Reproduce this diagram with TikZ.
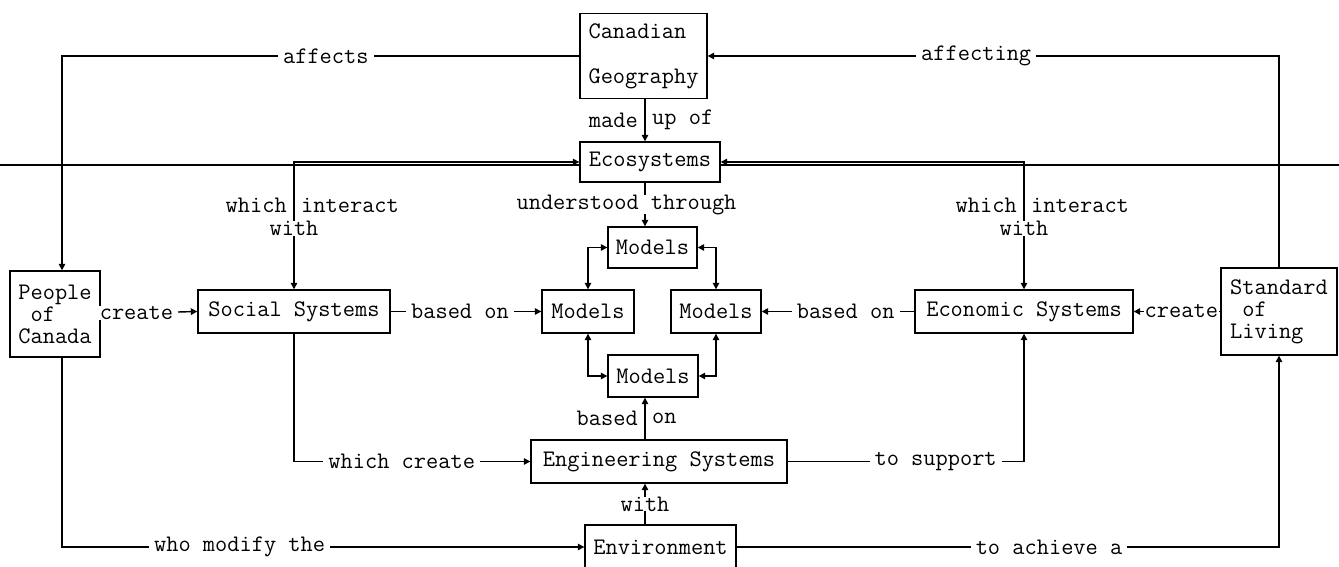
\documentclass[tikz,border=0pt]{standalone}
\usepackage{fontspec}
\usetikzlibrary{arrows.meta}

\begin{document}
\begin{tikzpicture}[x=0.02cm,y=-0.02cm,
  every node/.style={font=\ttfamily\fontsize{13.5}{15}\selectfont},
  box/.style={draw,line width=0.8pt,inner sep=0pt},
  lbl/.style={fill=white,inner xsep=0.1cm,inner ysep=0pt},
  wrd/.style={inner xsep=0.13cm,inner ysep=0pt},
  flow/.style={line width=0.8pt,-{Triangle[length=0.13cm,width=0.13cm]}},
  flow2/.style={line width=0.8pt,{Triangle[length=0.13cm,width=0.13cm]}-{Triangle[length=0.13cm,width=0.13cm]}}]
\useasboundingbox (0,0) rectangle (1339,567);
\coordinate (sp) at (645,0);
\coordinate (lt) at (62,0);
\coordinate (ruleL) at (0,165);
\coordinate (ruleR) at (1339,165);
\node[box,minimum width=2.54cm,minimum height=1.7cm,align=left] (geo) at (643.5,56) {Canadian\\[10.6pt]Geography};
\node[box,minimum width=2.8cm,minimum height=0.8cm] (eco) at (650,162) {Ecosystems};
\node[box,minimum width=1.78cm,minimum height=0.82cm] (mtop) at (652.5,247.5) {Models};
\node[box,minimum width=1.84cm,minimum height=0.86cm] (mleft) at (588,311.5) {Models};
\node[box,minimum width=1.8cm,minimum height=0.86cm] (mright) at (716,311.5) {Models};
\node[box,minimum width=1.8cm,minimum height=0.84cm] (mbot) at (653,376) {Models};
\node[box,minimum width=1.8cm,minimum height=1.72cm,align=left] (people) at (55,314) {People\\[-2.5pt]\hphantom{P}of\\[-2.5pt]Canada};
\node[box,minimum width=3.84cm,minimum height=0.86cm] (social) at (294,311.5) {Social Systems};
\node[box,minimum width=4.36cm,minimum height=0.86cm] (econ) at (1024,311.5) {Economic Systems};
\node[box,minimum width=2.32cm,minimum height=1.74cm,align=left] (std) at (1279,311.5) {Standard\\[-2.5pt]\hphantom{S}of\\[-2.5pt]Living};
\node[box,minimum width=5.12cm,minimum height=0.86cm] (eng) at (659,461.5) {Engineering Systems};
\node[box,minimum width=3.02cm,minimum height=0.88cm] (env) at (660.5,547) {Environment};
\draw[line width=0.6pt] (ruleL) -- (eco.west |- ruleL);
\draw[line width=0.6pt] (eco.east |- ruleR) -- (ruleR);
\draw[flow] (geo.west) -| node[lbl,pos=.245]{affects} (people.north -| lt);
\draw[flow] (std.north) |- node[lbl,pos=.765]{affecting} (geo.east);
\draw[flow] (geo.south -| sp) -- node[wrd,left]{made} node[wrd,right]{up of} (eco.north -| sp);
\draw[flow2] (social.north) |- node[wrd,pos=.33,left]{which} node[wrd,pos=.33,right]{interact} node[lbl,pos=.24]{with} (eco.west);
\draw[flow2] (econ.north) |- node[wrd,pos=.33,left]{which} node[wrd,pos=.33,right]{interact} node[lbl,pos=.24]{with} (eco.east);
\draw[flow] (eco.south -| sp) -- node[lbl,xshift=-0.37cm]{understood through} (mtop.north -| sp);
\draw[flow] (people.east) -- node[lbl,pos=.37]{create} (social.west);
\draw[flow] (social.east) -- node[lbl,pos=.46]{based on} (mleft.west);
\draw[flow] (econ.west) -- node[lbl,pos=.45]{based on} (mright.east);
\draw[flow] (std.west) -- node[lbl,inner xsep=0.02cm,pos=.45]{create} (econ.east);
\draw[flow2] (mtop.west) -| (mleft.north);
\draw[flow2] (mtop.east) -| (mright.north);
\draw[flow2] (mleft.south) |- (mbot.west);
\draw[flow2] (mright.south) |- (mbot.east);
\draw[flow] (eng.north -| sp) -- node[wrd,left]{based} node[wrd,right]{on} (mbot.south -| sp);
\draw[flow] (social.south) |- node[lbl,pos=.728]{which create} (eng.west);
\draw[flow] (eng.east) -| node[lbl,pos=.313]{to support} (econ.south);
\draw[flow] (env.north -| sp) -- node[lbl]{with} (eng.south -| sp);
\draw[flow] (people.south -| lt) |- node[lbl,pos=.67]{who modify the} (env.west);
\draw[flow] (env.east) -| node[lbl,pos=.288]{to achieve a} (std.south);
\end{tikzpicture}
\end{document}
